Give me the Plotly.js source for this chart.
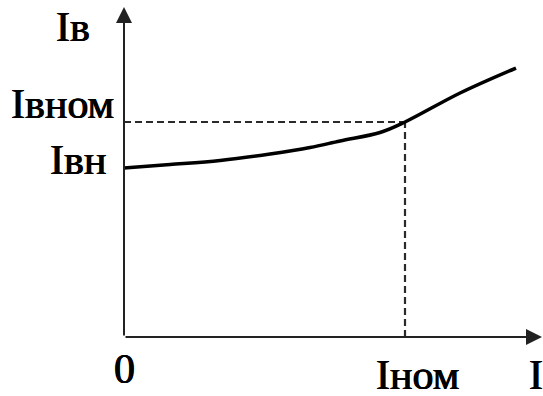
<!DOCTYPE html>
<html>
<head>
<meta charset="utf-8">
<script src="https://cdn.plot.ly/plotly-3.0.1.min.js"></script>
<style>html,body{margin:0;padding:0;background:#fff;}#chart{width:543px;height:396px;}</style>
</head>
<body>
<div id="chart"></div>
<script>
// Data (relative units: I / Iном and Iв / Iвном)
var current = [0, 0.164, 0.342, 0.520, 0.662, 0.769, 0.911, 1.0, 1.196, 1.395];
var excitation = [0.786, 0.802, 0.821, 0.851, 0.881, 0.912, 0.951, 1.0, 1.135, 1.251];
var Inom = 1.0;
var Ivnom = 1.0;
var Ivn = excitation[0];
var xAxisEnd = 1.4875;
var yAxisEnd = 1.535;
var labels = {
  yTitle: 'Iв', xTitle: 'I', origin: '0',
  ivnom: 'Iвном', ivn: 'Iвн', inom: 'Iном'
};

var dashStyle = {color: '#2a2a2a', width: 2.2, dash: '7px,4px'};
var traces = [
  {x: [0, Inom], y: [Ivnom, Ivnom], mode: 'lines', line: dashStyle, hoverinfo: 'skip'},
  {x: [Inom, Inom], y: [0, Ivnom], mode: 'lines', line: dashStyle, hoverinfo: 'skip'},
  {x: current, y: excitation, mode: 'lines', line: {color: '#000', width: 3.5, shape: 'spline', smoothing: 1}, hoverinfo: 'skip'}
];

var font = {family: 'Liberation Serif, Times New Roman, serif', size: 42, color: '#000',
  shadow: '0.6px 0 0 #000, -0.4px 0 0 #000'};
function lab(text, x, y, xanchor, xshift, yshift) {
  return {text: text, x: x, y: y, xref: 'x', yref: 'y', showarrow: false,
    xanchor: xanchor, yanchor: 'middle', xshift: xshift, yshift: yshift, font: font};
}
function arrow(x, y, ax, ay) {
  return {text: '', x: x, y: y, ax: ax, ay: ay, xref: 'x', yref: 'y', axref: 'x', ayref: 'y',
    showarrow: true, arrowhead: 2, arrowsize: 1.6, arrowwidth: 2, arrowcolor: '#222'};
}

var layout = {
  width: 543, height: 396, autosize: false,
  margin: {l: 0, r: 0, t: 0, b: 0},
  paper_bgcolor: '#fff', plot_bgcolor: '#fff',
  showlegend: false,
  xaxis: {range: [-0.4413, 1.4911], visible: false, fixedrange: true},
  yaxis: {range: [-0.2744, 1.5674], visible: false, fixedrange: true},
  annotations: [
    arrow(xAxisEnd, 0, 0, 0),
    arrow(0, yAxisEnd, 0, 0),
    lab(labels.yTitle, 0, yAxisEnd, 'center', -51, -20),
    lab(labels.ivnom, 0, Ivnom, 'right', -8, 18.5),
    lab(labels.ivn, 0, Ivn, 'right', -16, 8),
    lab(labels.origin, 0, 0, 'center', 0.5, -31.5),
    lab(labels.inom, Inom, 0, 'center', 12, -38),
    lab(labels.xTitle, xAxisEnd, 0, 'left', -15, -38)
  ]
};

Plotly.newPlot('chart', traces, layout, {staticPlot: true, displayModeBar: false});
</script>
</body>
</html>
